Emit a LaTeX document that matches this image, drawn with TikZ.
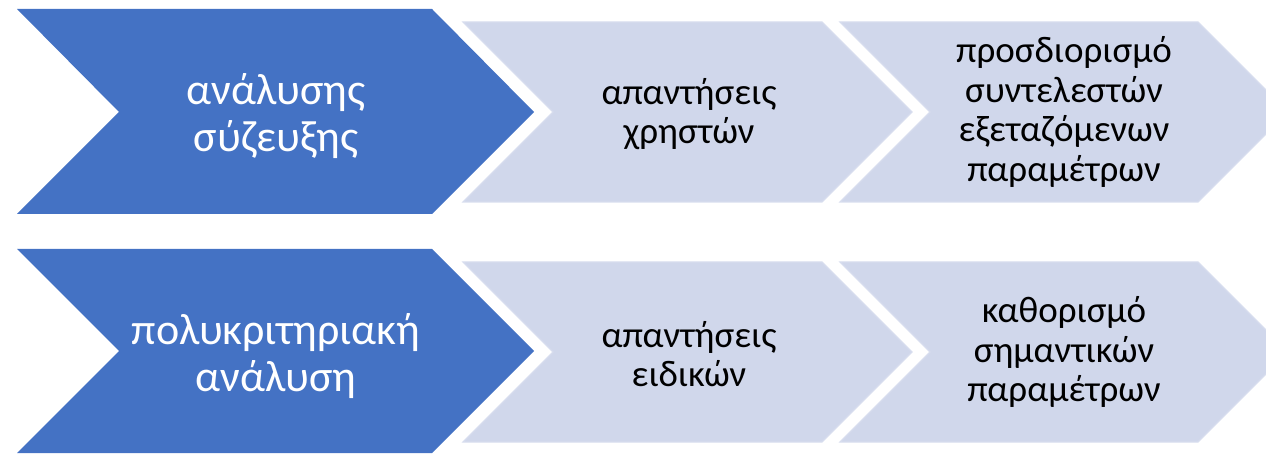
\documentclass[tikz,border=0pt]{standalone}
\usepackage{fontspec}
\setmainfont{Carlito}
\definecolor{chevblue}{HTML}{4472C4}
\definecolor{chevlight}{HTML}{D0D7EB}
\definecolor{chevedge}{HTML}{D7DDEE}
\tikzset{
  bigchev/.style={fill=chevblue},
  lightchev/.style={fill=chevlight, draw=chevedge, line width=1.2pt},
  whitetxt/.style={text=white, align=center, font=\fontsize{44}{47}\selectfont, inner sep=0pt},
  darktxt/.style={text=black, align=center, font=\fontsize{37}{39.5}\selectfont, inner sep=0pt}
}
\begin{document}
\begin{tikzpicture}[x=1pt,y=-1pt]
\useasboundingbox (0,0) rectangle (1266,454);
\begin{scope}
\clip (0,0) rectangle (1266,454);
% row 1
\path[bigchev] (17,9) -- (432,9) -- (534,112) -- (432,214) -- (17,214) -- (119,112) -- cycle;
\path[lightchev] (463,22) -- (822,22) -- (912,112) -- (822,202) -- (463,202) -- (553,112) -- cycle;
\path[lightchev] (840,22) -- (1198,22) -- (1288,112) -- (1198,202) -- (840,202) -- (930,112) -- cycle;
% row 2
\path[bigchev] (17,249) -- (432,249) -- (534,351) -- (432,453) -- (17,453) -- (119,351) -- cycle;
\path[lightchev] (463,262) -- (822,262) -- (912,352) -- (822,442) -- (463,442) -- (553,352) -- cycle;
\path[lightchev] (840,262) -- (1198,262) -- (1288,352) -- (1198,442) -- (840,442) -- (930,352) -- cycle;
\end{scope}
\node[whitetxt] (a1) at (276,116) {ανάλυσης\\σύζευξης};
\node[darktxt] (b1) at (689,114) {απαντήσεις\\χρηστών};
\node[darktxt] (c1) at (1064,112) {προσδιορισμό\\συντελεστών\\εξεταζόμενων\\παραμέτρων};
\node[whitetxt] (a2) at (276,356) {πολυκριτηριακή\\ανάλυση};
\node[darktxt] (b2) at (689,354) {απαντήσεις\\ειδικών};
\node[darktxt] (c2) at (1064,352) {καθορισμό\\σημαντικών\\παραμέτρων};
\end{tikzpicture}
\end{document}
